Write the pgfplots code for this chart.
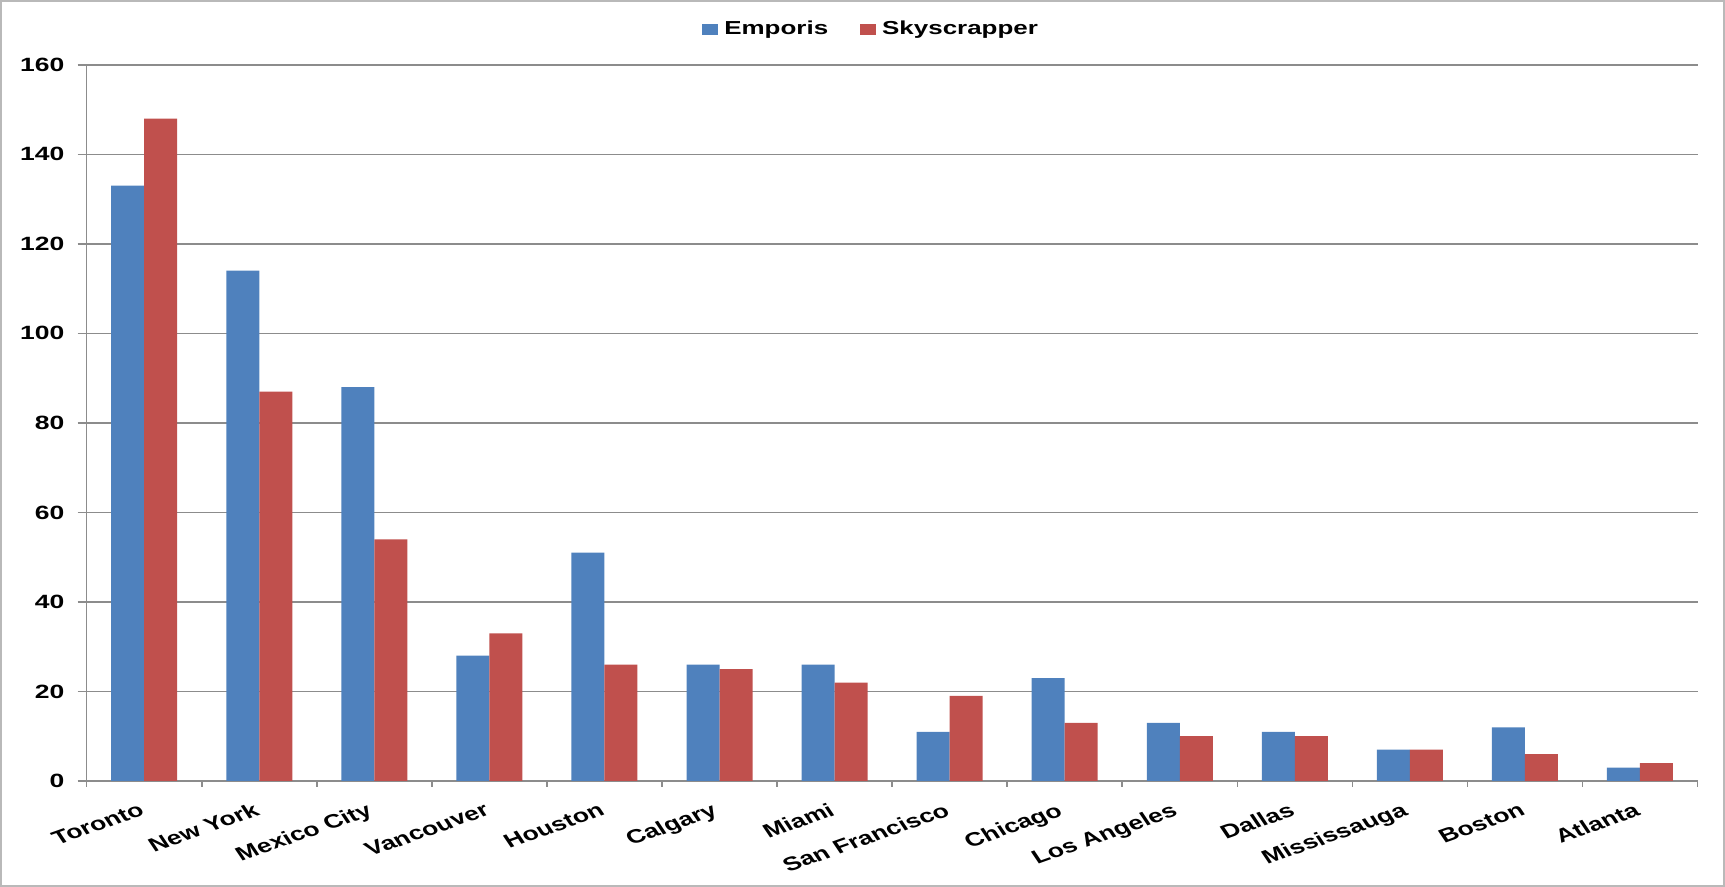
\documentclass[border=0pt]{standalone}
\usepackage{pgfplots}
\pgfplotsset{compat=1.18}
\usepackage{fontspec}
\setmainfont{Liberation Sans}
\usepackage{graphicx}
\definecolor{cblue}{HTML}{4F81BD}
\definecolor{cred}{HTML}{C0504D}
\definecolor{gridc}{HTML}{8C8C8C}
\newcommand\SX[1]{\scalebox{1.38}[1]{#1}}
\newcommand\RL[1]{\scalebox{1.38}[1]{\rotatebox{26}{#1}}}
\begin{document}
\begin{tikzpicture}
\useasboundingbox (-43.35pt,-53pt) rectangle (819.15pt,390.5pt);
\draw[color=gray!55, line width=1pt] (-42.8pt,-52.4pt) rectangle (818.6pt,389.9pt);
\begin{axis}[
  at={(0pt,0pt)}, anchor=south west,
  scale only axis, width=805.4pt, height=358.1pt,
  xmin=-0.5, xmax=13.5, ymin=0, ymax=160,
  ybar=0pt, bar width=16.5pt,
  axis x line*=bottom, axis y line*=left,
  axis line style={color=gridc, line width=0.75pt, -},
  ymajorgrids, grid style={color=gridc, line width=0.75pt},
  ytick={0,20,...,160},
  yticklabels={\SX{0},\SX{20},\SX{40},\SX{60},\SX{80},\SX{100},\SX{120},\SX{140},\SX{160}},
  xtick={0,...,13},
  xticklabels={\RL{Toronto},\RL{New York},\RL{Mexico City},\RL{Vancouver},\RL{Houston},\RL{Calgary},\RL{Miami},\RL{San Francisco},\RL{Chicago},\RL{Los Angeles},\RL{Dallas},\RL{Mississauga},\RL{Boston},\RL{Atlanta}},
  minor xtick={-0.5,0.5,...,13.5},
  tick align=outside,
  major tick length=4.5pt, minor tick length=3pt,
  major x tick style={draw=none},
  minor x tick style={color=gridc, line width=0.75pt},
  major y tick style={color=gridc, line width=0.75pt},
  ticklabel style={font=\fontsize{9.6}{11}\selectfont\bfseries},
  yticklabel style={anchor=east, inner sep=0pt, xshift=-6.5pt},
  xticklabel style={anchor=north east, inner sep=0pt, yshift=-6pt, xshift=1pt},
  legend style={draw=none, fill=none, at={(0.487,1.0497)}, anchor=center,
    font=\fontsize{9.4}{11}\selectfont\bfseries,
    legend columns=2,
    /tikz/every even column/.append style={column sep=15pt},
    /tikz/every odd column/.append style={column sep=2pt},
    nodes={inner sep=1pt}},
  legend image code/.code={\fill[draw=none] (0pt,-2.75pt) rectangle (8pt,2.75pt);},
]
\addplot[fill=cblue, draw=none] coordinates {
  (0,133) (1,114) (2,88) (3,28) (4,51) (5,26) (6,26) (7,11) (8,23) (9,13) (10,11) (11,7) (12,12) (13,3)};
\addlegendentry{\SX{Emporis}}
\addplot[fill=cred, draw=none] coordinates {
  (0,148) (1,87) (2,54) (3,33) (4,26) (5,25) (6,22) (7,19) (8,13) (9,10) (10,10) (11,7) (12,6) (13,4)};
\addlegendentry{\SX{Skyscrapper}}
\end{axis}
\end{tikzpicture}
\end{document}
